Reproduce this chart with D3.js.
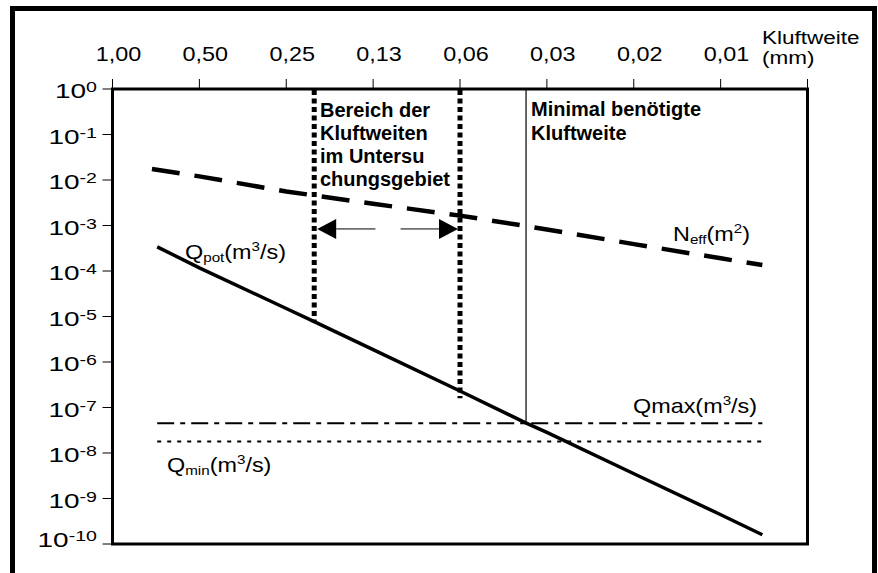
<!DOCTYPE html>
<html>
<head>
<meta charset="utf-8">
<script src="https://cdn.jsdelivr.net/npm/d3@7"></script>
<style>
  body { margin: 0; background: #fff; }
  svg text { font-family: "Liberation Sans", Arial, sans-serif; fill: #000; }
</style>
</head>
<body>
<div id="chart"></div>
<script>
// Kluftweite ticks (mm) on the top axis, halving each step
const widthTicks = [1, 0.5, 0.25, 0.125, 0.0625, 0.03125, 0.015625, 0.0078125, 0.00390625];
const widthLabels = ["1,00", "0,50", "0,25", "0,13", "0,06", "0,03", "0,02", "0,01", ""];
const powerTicks = [0, -1, -2, -3, -4, -5, -6, -7, -8, -9, -10];

// Q_pot (m3/s)
const qpotWidth = [0.7, 0.5, 0.25, 0.2, 0.125, 0.0625, 0.037, 0.03125, 0.0156, 0.0078, 0.0056];
const qpotValue = [3.4e-4, 1.17e-4, 1.5e-5, 7.7e-6, 1.87e-6, 2.3e-7, 4.6e-8, 2.85e-8, 3.5e-9, 4.4e-10, 1.6e-10];

// N_eff (m2)
const neffWidth = [0.73, 0.5, 0.25, 0.125, 0.0625, 0.03125, 0.0156, 0.0078, 0.0056];
const neffValue = [1.75e-2, 1.2e-2, 5.6e-3, 3.0e-3, 1.65e-3, 8.2e-4, 3.9e-4, 1.9e-4, 1.35e-4];

// horizontal limits
const qmax = 4.5e-8;
const qmin = 1.8e-8;
const limitRange = [0.7, 0.0055];

// range of apertures in the study area, and minimal aperture
const studyRange = [0.2, 0.0625];
const studyBottom = [7.4e-6, 1.6e-7];
const minimalWidth = 0.0369;
const arrowValue = 8.4e-4;
const arrowGap = [0.1227, 0.1004];

const W = 878, H = 573;
const plot = { left: 112.5, right: 807.5, top: 89, bottom: 544 };

const svg = d3.select("#chart").append("svg")
    .attr("width", W)
    .attr("height", H);

// outer frame
svg.append("rect")
    .attr("x", 12.5).attr("y", 8.5)
    .attr("width", 862).attr("height", 600)
    .attr("fill", "none").attr("stroke", "#000").attr("stroke-width", 5);

const x = d3.scaleLog().base(2)
    .domain([1, 0.00390625])
    .range([plot.left, plot.right]);

const y = d3.scaleLog()
    .domain([1, 1e-10])
    .range([plot.top, plot.bottom]);

const stretch = 1.17;  // the regular text in the original is a bit wider

function label(g, px, py, anchor, sx, size = 20) {
    return g.append("text")
        .attr("text-anchor", anchor)
        .attr("transform", `translate(${px},${py}) scale(${sx},1)`)
        .style("font-size", size + "px");
}

// top axis ticks
svg.append("g")
    .selectAll("line")
    .data(widthTicks)
    .enter()
    .append("line")
    .attr("x1", d => x(d)).attr("x2", d => x(d))
    .attr("y1", plot.top - 10).attr("y2", plot.top)
    .attr("stroke", "#000").attr("stroke-width", 1);

const topLabels = svg.append("g");
widthTicks.forEach((d, i) => {
    if (!widthLabels[i]) return;
    label(topLabels, x(d) + 6, 61, "middle", stretch).text(widthLabels[i]);
});

const kw = svg.append("g");
label(kw, 762, 44, "start", 1.25, 18).text("Kluftweite");
label(kw, 762, 64, "start", 1.25, 18).text("(mm)");

// left axis ticks
svg.append("g")
    .selectAll("line")
    .data(powerTicks)
    .enter()
    .append("line")
    .attr("x1", plot.left - 10).attr("x2", plot.left)
    .attr("y1", d => y(Math.pow(10, d))).attr("y2", d => y(Math.pow(10, d)))
    .attr("stroke", "#000").attr("stroke-width", 1);

const leftLabels = svg.append("g");
powerTicks.forEach(p => {
    const t = label(leftLabels, 97, Math.min(y(Math.pow(10, p)) + 9, 547), "end", 1.4);
    t.append("tspan").text("10");
    t.append("tspan").attr("dy", -6).style("font-size", "14px").text(p);
});

// plot frame
svg.append("rect")
    .attr("x", plot.left).attr("y", plot.top)
    .attr("width", plot.right - plot.left).attr("height", plot.bottom - plot.top)
    .attr("fill", "none").attr("stroke", "#000").attr("stroke-width", 3);

const line = d3.line()
    .x(d => x(d[0]))
    .y(d => y(d[1]));

// N_eff dashed
svg.append("path")
    .datum(neffWidth.map((w, i) => [w, neffValue[i]]))
    .attr("d", line)
    .attr("fill", "none").attr("stroke", "#000")
    .attr("stroke-width", 4.5).attr("stroke-dasharray", "28,15");

// Qmax dash-dot, Qmin dotted
svg.append("line")
    .attr("x1", x(limitRange[0])).attr("x2", x(0.0056))
    .attr("y1", y(qmax)).attr("y2", y(qmax))
    .attr("stroke", "#000").attr("stroke-width", 2)
    .attr("stroke-dasharray", "17,6,5,6");

svg.append("line")
    .attr("x1", x(limitRange[0])).attr("x2", x(limitRange[1]))
    .attr("y1", y(qmin)).attr("y2", y(qmin))
    .attr("stroke", "#000").attr("stroke-width", 2)
    .attr("stroke-dasharray", "4,6");

// minimal aperture
svg.append("line")
    .attr("x1", x(minimalWidth)).attr("x2", x(minimalWidth))
    .attr("y1", plot.top).attr("y2", y(qmax))
    .attr("stroke", "#000").attr("stroke-width", 1.2);

// study area bounds
svg.append("g")
    .selectAll("line")
    .data(studyRange)
    .enter()
    .append("line")
    .attr("x1", d => x(d)).attr("x2", d => x(d))
    .attr("y1", plot.top + 1).attr("y2", (d, i) => y(studyBottom[i]))
    .attr("stroke", "#000").attr("stroke-width", 5)
    .attr("stroke-dasharray", "5,3.5");

// Q_pot solid
svg.append("path")
    .datum(qpotWidth.map((w, i) => [w, qpotValue[i]]))
    .attr("d", line)
    .attr("fill", "none").attr("stroke", "#000")
    .attr("stroke-width", 3.5);

// arrows
const ay = y(arrowValue);
const arrows = [
    { from: arrowGap[0], to: studyRange[0] },
    { from: arrowGap[1], to: studyRange[1] }
];
arrows.forEach(a => {
    const x0 = x(a.from), x1 = x(a.to) + (a.to > a.from ? 3 : -2);
    const dir = Math.sign(x1 - x0);
    const base = x1 - dir * 19;
    svg.append("line")
        .attr("x1", x0).attr("x2", base)
        .attr("y1", ay).attr("y2", ay)
        .attr("stroke", "#000").attr("stroke-width", 1);
    svg.append("path")
        .attr("d", `M${x1},${ay}L${base},${ay - 10}L${base},${ay + 10}Z`)
        .attr("fill", "#000");
});

// bold annotations
const bold = svg.append("g").style("font-size", "20px").style("font-weight", "bold");
["Bereich der", "Kluftweiten", "im Untersu", "chungsgebiet"].forEach((t, i) => {
    bold.append("text").attr("x", 320).attr("y", 117 + i * 23).text(t);
});
["Minimal benötigte", "Kluftweite"].forEach((t, i) => {
    bold.append("text").attr("x", 531).attr("y", 116 + i * 24).text(t);
});

// series labels
const ann = svg.append("g");
function seriesLabel(px, py, main, sub, subIsSmall, unitPow) {
    const t = label(ann, px, py, "start", stretch);
    t.append("tspan").text(main);
    if (subIsSmall) {
        t.append("tspan").attr("dy", 3).style("font-size", "13px").text(sub);
        t.append("tspan").attr("dy", -3).text("(m");
    } else {
        t.append("tspan").text(sub + "(m");
    }
    t.append("tspan").attr("dy", -8).style("font-size", "13px").text(unitPow);
    t.append("tspan").attr("dy", 8).text(unitPow === "3" ? "/s)" : ")");
}
seriesLabel(185, 259, "Q", "pot", true, "3");
seriesLabel(673, 241, "N", "eff", true, "2");
seriesLabel(633, 413, "Q", "max", false, "3");
seriesLabel(167, 472, "Q", "min", true, "3");
</script>
</body>
</html>
